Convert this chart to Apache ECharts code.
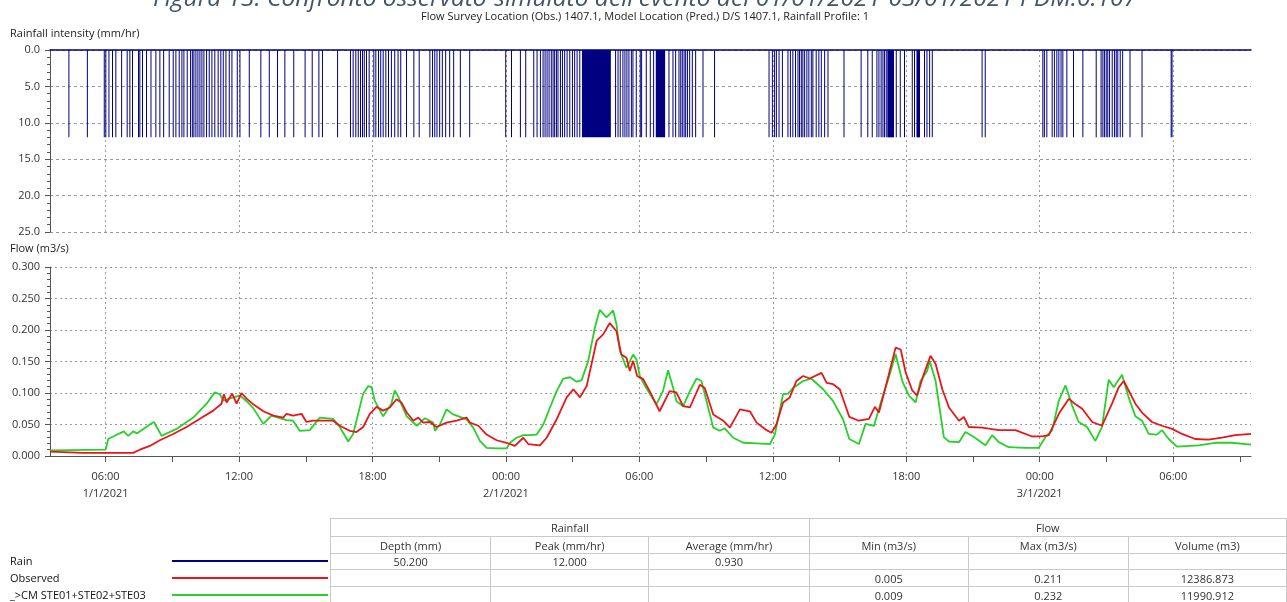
<!DOCTYPE html>
<html>
<head>
<meta charset="utf-8">
<script src="https://cdn.jsdelivr.net/npm/echarts@6/dist/echarts.min.js"></script>
<style>
  html, body { margin: 0; padding: 0; background: #fff; }
  #wrap { position: relative; width: 1287px; height: 602px; overflow: hidden; font-family: 'Open Sans', sans-serif; }
  #chart { position: absolute; left: 0; top: 0; width: 1287px; height: 602px; }
  #stats { position: absolute; left: 330px; top: 518px; border-collapse: collapse; table-layout: fixed; font-size: 11px; color: #333; }
  #stats td { border: 1px solid #c9c9c9; text-align: center; padding: 0; line-height: 15px; white-space: nowrap; }
  #legend { position: absolute; left: 10px; top: 553px; width: 320px; font-size: 11px; color: #111; }
  .lrow { position: relative; height: 17px; }
  .lrow span { position: absolute; left: 0; top: 0; line-height: 16px; white-space: nowrap; }
  .lrow i { position: absolute; left: 162px; top: 7px; width: 156px; height: 2px; }
</style>
</head>
<body>
<div id="wrap">
  <div id="chart"></div>
  <div id="legend"></div>
  <table id="stats"></table>
</div>
<script>
// time axis: hours since 1/1/2021 00:00
const xStart = 3.5;
const xEnd = 57.5;
const xLabelHours = [6, 12, 18, 24, 30, 36, 42, 48, 54];
const xLabels = ['06:00\n1/1/2021', '12:00', '18:00', '00:00\n2/1/2021', '06:00', '12:00', '18:00', '00:00\n3/1/2021', '06:00'];
const xTickHours = [6, 9, 12, 15, 18, 21, 24, 27, 30, 33, 36, 39, 42, 45, 48, 51, 54, 57];

// rain gauge tips (hours), each one at the gauge intensity
const rainIntensity = 12.0;
const rainTips = [
  4.35, 5.18, 5.94, 6.01, 6.15, 6.31, 6.46, 6.72, 6.97, 7.09, 7.21, 7.48, 7.54, 7.66, 7.84, 8.04, 8.26, 8.44, 8.61, 8.86,
  9.04, 9.16, 9.31, 9.43, 9.52, 9.67, 9.82, 9.90, 9.97, 10.06, 10.15, 10.24, 10.33, 10.42, 10.54, 10.66, 10.78, 10.91,
  11.06, 11.18, 11.29, 11.41, 11.56, 11.68, 11.92, 12.04, 12.46, 12.98, 13.36, 13.73, 14.06, 14.46, 14.97, 15.29, 15.59,
  15.75, 16.43, 17.01, 17.13, 17.25, 17.36, 17.46, 17.55, 17.63, 17.73, 17.85, 18.06, 18.15, 18.27, 18.37, 18.48, 18.60,
  18.72, 18.85, 19.00, 19.15, 19.27, 19.53, 19.86, 20.10, 20.58, 20.70, 20.80, 20.90, 21.02, 21.14, 21.29, 21.47, 21.65,
  21.95, 22.37, 23.99, 24.25, 24.65, 24.89, 25.25, 25.40, 25.55, 25.67, 25.76, 25.85, 25.94, 26.04, 26.12, 26.19, 26.27,
  26.34, 26.45, 26.54, 26.64, 26.75, 26.87, 26.99, 27.09, 27.20, 27.32, 28.93, 29.04, 29.14, 29.26, 29.35, 29.44, 29.53,
  29.64, 29.71, 29.86, 30.04, 30.10, 30.31, 30.49, 30.64, 31.33, 31.51, 31.63, 31.78, 31.86, 31.93, 32.01, 32.08, 32.16,
  32.26, 32.38, 32.53, 32.86, 33.38, 35.83, 35.98, 36.08, 36.16, 36.28, 36.43, 36.68, 36.79, 36.90, 37.02, 37.13, 37.20,
  37.28, 37.35, 37.43, 37.53, 37.62, 37.73, 37.80, 37.95, 38.07, 38.18, 38.33, 38.48, 39.20, 39.97, 40.27, 40.47, 40.68,
  40.77, 40.87, 40.95, 41.02, 41.10, 41.55, 41.73, 41.92, 42.27, 42.37, 42.82, 42.93, 43.05, 43.17, 45.41, 45.55, 48.14,
  48.21, 48.32, 48.56, 48.66, 48.77, 48.86, 48.96, 49.04, 49.22, 49.52, 49.94, 50.54, 50.76, 50.84, 50.91, 50.99, 51.06,
  51.14, 51.26, 51.36, 51.44, 51.51, 51.62, 51.73, 52.06, 52.60, 53.91, 53.95
];
// spells of continuous rain [start, end]
const rainSpells = [[27.44, 28.74], [30.76, 31.18], [41.17, 41.47], [42.48, 42.64]];

// observed flow (m3/s)
const obsTime = [3.5, 5.0, 7.24, 7.54, 7.99, 8.44, 9.04, 9.64, 10.24, 10.84, 11.21, 11.32, 11.44, 11.69, 11.89, 12.11, 12.34, 12.64,
  13.09, 13.54, 13.99, 14.13, 14.43, 14.81, 15.03, 15.33, 15.78, 16.23, 16.53, 16.98, 17.28, 17.58, 17.88, 18.18, 18.48, 18.78,
  19.08, 19.3, 19.54, 19.84, 20.06, 20.28, 20.58, 20.88, 21.33, 21.78, 22.23, 22.38, 22.76, 23.13, 23.58, 24.03, 24.40, 24.78,
  25.00, 25.53, 25.83, 26.28, 26.73, 27.03, 27.33, 27.63, 28.08, 28.37, 28.67, 28.97, 29.19, 29.42, 29.57, 29.72, 29.90, 30.17,
  30.46, 30.91, 31.36, 31.66, 31.97, 32.27, 32.72, 32.94, 33.32, 33.77, 34.07, 34.52, 34.97, 35.27, 35.72, 35.94, 36.16, 36.46,
  36.76, 37.06, 37.36, 37.66, 38.19, 38.42, 38.71, 39.01, 39.44, 39.87, 40.32, 40.59, 40.77, 41.07, 41.52, 41.75, 41.97, 42.27,
  42.49, 42.79, 43.09, 43.32, 43.62, 43.92, 44.37, 44.59, 44.81, 45.41, 46.16, 46.91, 47.66, 48.11, 48.41, 48.86, 49.31, 49.61,
  49.91, 50.36, 50.80, 51.25, 51.55, 51.78, 52.00, 52.30, 52.60, 53.05, 53.50, 53.95, 54.40, 54.99, 55.59, 56.19, 56.79, 57.5];
const obsFlow = [0.007, 0.005, 0.005, 0.010, 0.016, 0.025, 0.035, 0.046, 0.059, 0.072, 0.083, 0.098, 0.085, 0.099, 0.083, 0.100, 0.091, 0.082,
  0.071, 0.064, 0.061, 0.067, 0.064, 0.067, 0.054, 0.056, 0.056, 0.056, 0.048, 0.040, 0.038, 0.046, 0.067, 0.078, 0.072, 0.077,
  0.090, 0.085, 0.069, 0.056, 0.061, 0.053, 0.054, 0.046, 0.053, 0.056, 0.061, 0.053, 0.048, 0.034, 0.025, 0.021, 0.016, 0.029,
  0.019, 0.017, 0.029, 0.058, 0.093, 0.106, 0.093, 0.111, 0.183, 0.193, 0.211, 0.198, 0.161, 0.156, 0.135, 0.151, 0.127, 0.122,
  0.103, 0.071, 0.103, 0.101, 0.079, 0.077, 0.113, 0.108, 0.066, 0.056, 0.045, 0.074, 0.071, 0.053, 0.041, 0.037, 0.050, 0.085,
  0.093, 0.119, 0.127, 0.123, 0.132, 0.116, 0.114, 0.106, 0.062, 0.056, 0.059, 0.078, 0.069, 0.109, 0.172, 0.169, 0.133, 0.104,
  0.096, 0.130, 0.159, 0.146, 0.106, 0.077, 0.056, 0.062, 0.046, 0.045, 0.041, 0.041, 0.031, 0.031, 0.033, 0.067, 0.091, 0.082,
  0.075, 0.054, 0.048, 0.083, 0.109, 0.119, 0.104, 0.083, 0.069, 0.054, 0.048, 0.043, 0.035, 0.027, 0.026, 0.029, 0.033, 0.035];

// predicted flow, model >CM STE01+STE02+STE03 (m3/s)
const predTime = [3.5, 6.00, 6.12, 6.34, 6.82, 7.02, 7.24, 7.42, 8.07, 8.17, 8.52, 9.19, 9.94, 10.54, 10.91, 11.14, 11.29, 11.74, 12.04,
  12.34, 12.64, 13.09, 13.46, 14.13, 14.43, 14.73, 15.18, 15.63, 16.23, 16.53, 16.91, 17.13, 17.58, 17.81, 17.96, 18.10, 18.48,
  18.85, 19.00, 19.15, 19.30, 19.54, 19.99, 20.36, 20.73, 20.81, 21.03, 21.33, 21.63, 21.93, 22.23, 22.53, 22.83, 23.13, 23.58,
  24.03, 24.18, 24.48, 24.78, 25.08, 25.38, 25.68, 25.98, 26.28, 26.58, 26.88, 27.18, 27.40, 27.70, 28.00, 28.22, 28.52, 28.82,
  28.97, 29.12, 29.42, 29.72, 29.87, 30.02, 30.31, 30.76, 31.06, 31.29, 31.52, 31.67, 31.97, 32.27, 32.57, 32.79, 33.02, 33.32,
  33.62, 33.84, 34.22, 34.67, 35.27, 35.87, 36.09, 36.46, 36.69, 36.91, 37.36, 37.73, 38.26, 38.71, 39.16, 39.44, 39.87, 40.17,
  40.55, 40.92, 41.22, 41.52, 41.82, 42.12, 42.42, 42.64, 42.94, 43.05, 43.32, 43.69, 43.92, 44.37, 44.66, 45.04, 45.56, 45.86,
  46.16, 46.61, 47.36, 47.96, 48.26, 48.56, 48.86, 49.16, 49.46, 49.75, 50.13, 50.50, 50.80, 51.10, 51.33, 51.70, 52.00, 52.30,
  52.60, 52.90, 53.27, 53.50, 53.80, 54.17, 55.14, 55.89, 56.64, 57.5];
const predFlow = [0.009, 0.010, 0.027, 0.031, 0.039, 0.032, 0.039, 0.036, 0.052, 0.054, 0.032, 0.043, 0.061, 0.083, 0.101, 0.098, 0.088, 0.093, 0.096,
  0.087, 0.076, 0.051, 0.064, 0.057, 0.056, 0.040, 0.041, 0.061, 0.059, 0.046, 0.023, 0.035, 0.099, 0.111, 0.109, 0.088, 0.063,
  0.083, 0.104, 0.095, 0.082, 0.063, 0.048, 0.060, 0.053, 0.040, 0.050, 0.074, 0.066, 0.062, 0.058, 0.045, 0.024, 0.013, 0.012,
  0.012, 0.021, 0.029, 0.033, 0.033, 0.034, 0.050, 0.077, 0.103, 0.123, 0.125, 0.118, 0.120, 0.151, 0.204, 0.232, 0.220, 0.231,
  0.209, 0.167, 0.140, 0.161, 0.153, 0.127, 0.108, 0.082, 0.103, 0.136, 0.108, 0.087, 0.079, 0.103, 0.123, 0.119, 0.087, 0.045,
  0.040, 0.044, 0.029, 0.021, 0.020, 0.019, 0.034, 0.098, 0.099, 0.108, 0.119, 0.123, 0.106, 0.087, 0.058, 0.027, 0.019, 0.051,
  0.048, 0.093, 0.125, 0.162, 0.119, 0.096, 0.085, 0.119, 0.135, 0.151, 0.119, 0.030, 0.023, 0.022, 0.038, 0.030, 0.017, 0.033,
  0.022, 0.014, 0.013, 0.013, 0.030, 0.041, 0.088, 0.112, 0.080, 0.054, 0.046, 0.024, 0.046, 0.121, 0.109, 0.129, 0.093, 0.063,
  0.056, 0.035, 0.034, 0.041, 0.027, 0.015, 0.017, 0.021, 0.021, 0.018];

// summary table
const seriesNames = ['Rain', 'Observed', '_>CM STE01+STE02+STE03'];
const seriesColors = ['#000080', '#e8161b', '#27d02b'];
const rainfallCols = ['Depth (mm)', 'Peak (mm/hr)', 'Average (mm/hr)'];
const flowCols = ['Min (m3/s)', 'Max (m3/s)', 'Volume (m3)'];
const rainStats = ['50.200', '12.000', '0.930'];
const obsStats = ['0.005', '0.211', '12386.873'];
const predStats = ['0.009', '0.232', '11990.912'];

const zip = (xs, ys) => xs.map((x, i) => [x, ys[i]]);
const rainData = rainTips.map(t => [t, t, rainIntensity]).concat(rainSpells.map(s => [s[0], s[1], rainIntensity]));

const axisText = { color: '#333', fontSize: 11, fontFamily: 'Open Sans' };
const axisDark = { lineStyle: { color: '#555', width: 1 } };
const gridDash = { show: true, lineStyle: { color: '#9a9a9a', type: [2, 3], width: 1 } };

const chart = echarts.init(document.getElementById('chart'));
chart.setOption({
  animation: false,
  grid: [
    { left: 50, top: 50, width: 1201, height: 182 },
    { left: 50, top: 267, width: 1201, height: 189 }
  ],
  graphic: [
    { type: 'text', x: 645, y: -1, style: { text: "Figura 13: Confronto osservato-simulato dell'evento del 01/01/2021-03/01/2021 PDM:0.107", font: 'italic 24.5px "Open Sans"', fill: '#44546a', align: 'center', verticalAlign: 'middle' } },
    { type: 'text', x: 645, y: 17, style: { text: 'Flow Survey Location (Obs.) 1407.1, Model Location (Pred.) D/S 1407.1, Rainfall Profile: 1', font: '11px "Open Sans"', fill: '#222', align: 'center', verticalAlign: 'middle' } },
    { type: 'text', x: 10, y: 34, style: { text: 'Rainfall intensity (mm/hr)', font: '11px "Open Sans"', fill: '#222', verticalAlign: 'middle' } },
    { type: 'text', x: 10, y: 249, style: { text: 'Flow (m3/s)', font: '11px "Open Sans"', fill: '#222', verticalAlign: 'middle' } }
  ],
  xAxis: [
    {
      gridIndex: 0, type: 'value', min: xStart, max: xEnd, position: 'top',
      axisLine: { show: true, onZero: false, lineStyle: { color: '#000080', width: 1.5 } },
      axisTick: { show: false, customValues: xLabelHours },
      axisLabel: { show: false },
      splitLine: gridDash
    },
    {
      gridIndex: 1, type: 'value', min: xStart, max: xEnd,
      axisLine: { show: true, onZero: false, lineStyle: { color: '#555' } },
      axisTick: { show: true, length: 6, customValues: xTickHours, lineStyle: { color: '#555' } },
      axisLabel: Object.assign({}, axisText, {
        customValues: xLabelHours, margin: 12, lineHeight: 17,
        formatter: v => xLabels[xLabelHours.indexOf(Math.round(v))] || ''
      }),
      splitLine: { show: false }
    },
    {
      gridIndex: 1, type: 'value', min: xStart, max: xEnd,
      axisLine: { show: false }, axisLabel: { show: false },
      axisTick: { show: false, customValues: xLabelHours },
      splitLine: gridDash
    }
  ],
  yAxis: [
    {
      gridIndex: 0, type: 'value', min: 0, max: 25, interval: 5, inverse: true,
      axisLine: Object.assign({ show: true }, axisDark),
      axisTick: { show: true, length: 5, lineStyle: { color: '#555' } },
      minorTick: { show: true, splitNumber: 5, length: 3, lineStyle: { color: '#555' } },
      axisLabel: Object.assign({}, axisText, { margin: 10, formatter: v => v.toFixed(1) }),
      splitLine: { show: true, lineStyle: { color: '#9a9a9a', type: [3, 3] } }
    },
    {
      gridIndex: 1, type: 'value', min: 0, max: 0.3, interval: 0.05,
      axisLine: Object.assign({ show: true }, axisDark),
      axisTick: { show: true, length: 5, lineStyle: { color: '#555' } },
      minorTick: { show: true, splitNumber: 5, length: 3, lineStyle: { color: '#555' } },
      axisLabel: Object.assign({}, axisText, { margin: 10, formatter: v => v.toFixed(3) }),
      splitLine: gridDash
    }
  ],
  series: [
    {
      name: seriesNames[0], type: 'custom', xAxisIndex: 0, yAxisIndex: 0,
      encode: { x: [0, 1], y: 2 },
      renderItem: function (params, api) {
        const a = api.coord([api.value(0), 0]);
        const b = api.coord([api.value(1), api.value(2)]);
        const w = Math.max(1, b[0] - a[0]);
        return { type: 'rect', shape: { x: a[0] - 0.5, y: a[1], width: w, height: b[1] - a[1] }, style: { fill: seriesColors[0] } };
      },
      data: rainData
    },
    {
      name: seriesNames[2], type: 'line', xAxisIndex: 1, yAxisIndex: 1, symbol: 'none',
      lineStyle: { color: seriesColors[2], width: 1.8 }, data: zip(predTime, predFlow)
    },
    {
      name: seriesNames[1], type: 'line', xAxisIndex: 1, yAxisIndex: 1, symbol: 'none',
      lineStyle: { color: seriesColors[1], width: 1.8 }, data: zip(obsTime, obsFlow)
    }
  ]
});

// legend rows
document.getElementById('legend').innerHTML = seriesNames.map((n, i) =>
  '<div class="lrow"><span>' + n.replace('>', '&gt;') + '</span><i style="background:' + seriesColors[i] + '"></i></div>').join('');

// stats table
const colW = [160, 158, 160, 159, 160, 158];
const cell = (t, w, extra) => '<td' + (extra || '') + (w ? ' style="width:' + w + 'px"' : '') + '>' + t + '</td>';
let html = '<tr style="height:18px">' + cell('Rainfall', 0, ' colspan="3"') + cell('Flow', 0, ' colspan="3"') + '</tr>';
html += '<tr style="height:17px">' + rainfallCols.concat(flowCols).map((c, i) => cell(c, colW[i])).join('') + '</tr>';
html += '<tr style="height:16px">' + rainStats.concat(['', '', '']).map(v => cell(v)).join('') + '</tr>';
html += '<tr style="height:17px">' + ['', '', ''].concat(obsStats).map(v => cell(v)).join('') + '</tr>';
html += '<tr style="height:17px">' + ['', '', ''].concat(predStats).map(v => cell(v)).join('') + '</tr>';
document.getElementById('stats').innerHTML = html;
</script>
</body>
</html>
